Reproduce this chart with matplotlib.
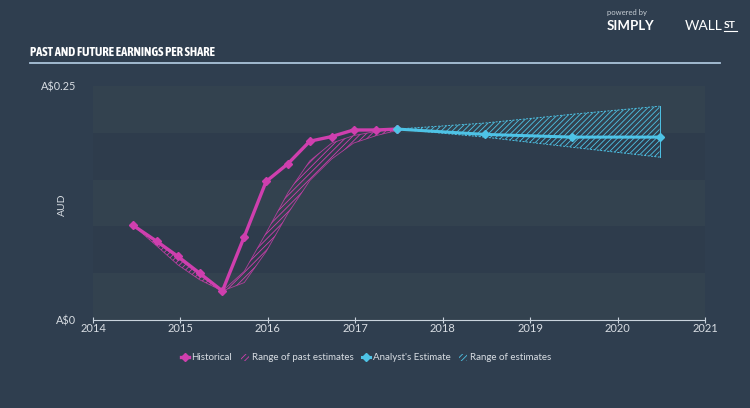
import matplotlib
matplotlib.use("Agg")
import matplotlib.pyplot as plt
from matplotlib.patches import Patch
from matplotlib.lines import Line2D
from matplotlib import font_manager
import numpy as np

# ---- data ----
hist_x = [2014.46, 2014.73, 2014.97, 2015.22, 2015.48, 2015.73, 2015.98,
          2016.23, 2016.48, 2016.73, 2016.98, 2017.24, 2017.48]
hist_y = [0.101, 0.084, 0.068, 0.050, 0.031, 0.089, 0.148,
          0.167, 0.191, 0.196, 0.203, 0.203, 0.204]
past_low = [0.101, 0.079, 0.059, 0.043, 0.031, 0.040, 0.073,
            0.114, 0.149, 0.172, 0.189, 0.197, 0.2026]
past_high = [0.101, 0.083, 0.066, 0.048, 0.031, 0.052, 0.093,
             0.136, 0.170, 0.189, 0.197, 0.2015, 0.2036]

fc_x = [2017.48, 2018.48, 2019.48, 2020.48]
fc_y = [0.204, 0.1983, 0.1954, 0.1954]
fc_low = [0.204, 0.1954, 0.1846, 0.174]
fc_high = [0.204, 0.2104, 0.2198, 0.2284]

xticks = [2014, 2015, 2016, 2017, 2018, 2019, 2020, 2021]
ytick_vals = [0, 0.25]
ytick_labels = ["A$0", "A$0.25"]

# ---- style ----
BG = "#2f3e4f"
MAG = "#cf3fae"
CY = "#4ec3e6"
TXT = "#d8dde3"

plt.rcParams['font.family'] = ['Lato', 'DejaVu Sans']
plt.rcParams['hatch.linewidth'] = 0.6

# pick a condensed bold face for the title if one is installed
title_family = ["DejaVu Sans"]
title_stretch = "normal"
for f in font_manager.fontManager.ttflist:
    if "Narrow" in f.name or "Condensed" in f.name:
        if f.weight in ("bold", 700) or "Bold" in f.fname:
            title_family = [f.name, "DejaVu Sans"]
            break
for f in font_manager.fontManager.ttflist:
    if f.name == "DejaVu Sans" and f.stretch == "condensed":
        title_stretch = "condensed"

fig = plt.figure(figsize=(7.5, 4.08), dpi=100, facecolor=BG)
ax = fig.add_axes([93/750, 1-320/408, (705-93)/750, (320-86)/408])
ax.set_facecolor(BG)
ax.set_xlim(2014, 2021)
ax.set_ylim(0, 0.25)

# bands
for i in range(5):
    col = "#33424f" if i % 2 == 0 else "#2e3c4c"
    ax.axhspan(i*0.05, (i+1)*0.05, color=col, zorder=0, lw=0)

# past range
ax.fill_between(hist_x, past_low, past_high, facecolor="none", edgecolor=MAG,
                hatch="//////", linewidth=0, zorder=2)
ax.plot(hist_x, past_low, color=MAG, lw=0.6, alpha=0.8, zorder=2)
ax.plot(hist_x, past_high, color=MAG, lw=0.6, alpha=0.8, zorder=2)

# forecast range
ax.fill_between(fc_x, fc_low, fc_high, facecolor="none", edgecolor=CY,
                hatch="//////", linewidth=0, zorder=2)
ax.plot(fc_x, fc_low, color=CY, lw=0.7, ls=(0, (2, 1.5)), zorder=2)
ax.plot(fc_x, fc_high, color=CY, lw=0.7, ls=(0, (2, 1.5)), zorder=2)
ax.plot([fc_x[-1], fc_x[-1]], [fc_low[-1], fc_high[-1]], color=CY, lw=0.7, zorder=2)

ax.plot(hist_x, hist_y, color=MAG, lw=2.4, marker="D", ms=4.5, zorder=4)
ax.plot(fc_x, fc_y, color=CY, lw=2.2, marker="D", ms=4.5, zorder=5)

for s in ["top", "right", "left"]:
    ax.spines[s].set_visible(False)
ax.spines["bottom"].set_color("#c9d3dd")
ax.spines["bottom"].set_linewidth(0.8)
ax.set_xticks(xticks)
ax.set_xticklabels([str(t) for t in xticks])
ax.tick_params(axis="x", colors="#c9d3dd", labelcolor=TXT, length=5,
               direction="inout", labelsize=8, pad=0)
ax.set_yticks(ytick_vals)
ax.set_yticklabels(ytick_labels)
ax.tick_params(axis="y", length=0, labelcolor=TXT, labelsize=7.8, pad=12)
fig.text(62/750, 1-205/408, "AUD", color=TXT, fontsize=7.5, rotation=90,
         ha="center", va="center")

# title and header
fig.text(30/750, 1-52/408, "PAST AND FUTURE EARNINGS PER SHARE",
         family=title_family, stretch=title_stretch, weight="bold",
         fontsize=9, color="white", va="center", ha="left")
fig.add_artist(Line2D([30/750, 720/750], [1-63/408, 1-63/408], color="#aac3da", lw=1.3))
fig.text(607/750, 1-13/408, "powered by", fontsize=5.5, color="#c5ccd3", ha="left", va="center")
fig.text(607/750, 1-26/408, "SIMPLY", fontsize=9.5, weight="bold", color="white", ha="left", va="center")
fig.text(685/750, 1-26/408, "WALL", fontsize=10, color="white", ha="left", va="center")
fig.text(724/750, 1-25/408, "ST", fontsize=7.5, weight="bold", color="white", ha="left", va="center")
fig.add_artist(Line2D([724/750, 737/750], [1-31/408, 1-31/408], color="white", lw=0.8))

# legend
handles = [
    Line2D([0], [0], color=MAG, lw=2.4, marker="D", ms=4.5),
    Patch(facecolor="none", edgecolor=MAG, hatch="//////", lw=0),
    Line2D([0], [0], color=CY, lw=2.2, marker="D", ms=4.5),
    Patch(facecolor="none", edgecolor=CY, hatch="//////", lw=0),
]
labels = ["Historical", "Range of past estimates", "Analyst's Estimate", "Range of estimates"]
leg = fig.legend(handles, labels, loc="center", bbox_to_anchor=(366/750, 1-358/408),
                 ncol=4, frameon=False, fontsize=7, handlelength=0.8,
                 handletextpad=0.3, columnspacing=0.9, labelcolor=TXT)

fig.savefig("out.png", dpi=100, facecolor=BG)
